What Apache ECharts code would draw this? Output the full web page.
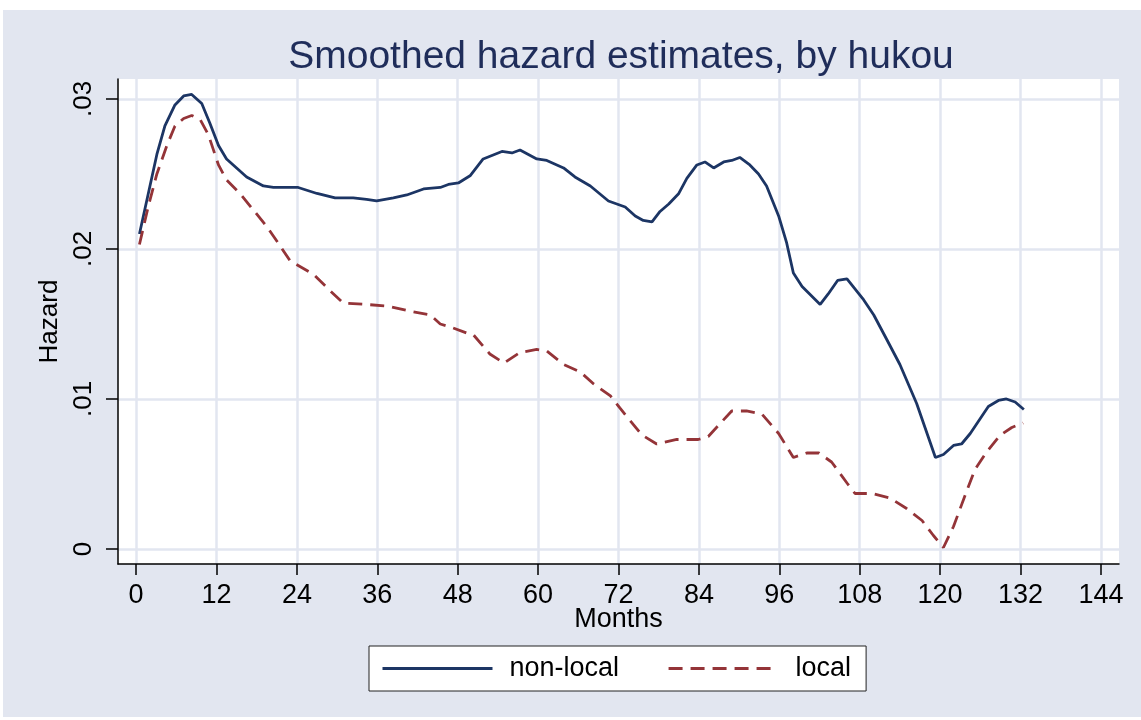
<!DOCTYPE html>
<html>
<head>
<meta charset="utf-8">
<script src="https://cdn.jsdelivr.net/npm/echarts@6/dist/echarts.min.js"></script>
<style>
html, body { margin: 0; padding: 0; background: #ffffff; }
#main {
  position: absolute;
  left: 3px;
  top: 10px;
  width: 1138px;
  height: 707px;
  background-color: #e2e6f0;
}
</style>
</head>
<body>
<div id="main"></div>
<script>
// hazard, months on x
var nonLocalMonths = [0.5, 3.1, 4.3, 5.8, 7.1, 8.3, 9.8, 11.0, 12.3, 13.5, 15.0, 16.5, 19.0, 20.5, 24.2, 27.0, 29.7, 32.4, 34.4, 35.9, 38.4, 40.4, 42.9, 45.4, 46.6, 48.1, 49.9, 51.8, 54.6, 56.1, 57.3, 59.8, 61.3, 63.8, 65.5, 67.8, 70.5, 73.0, 74.5, 75.7, 77.0, 78.2, 79.5, 81.0, 82.2, 83.7, 84.9, 86.2, 87.7, 88.9, 90.1, 91.6, 92.9, 94.1, 95.9, 97.1, 98.1, 99.4, 102.1, 103.3, 104.7, 106.1, 108.6, 110.1, 112.0, 114.0, 116.5, 119.3, 120.5, 122.0, 123.2, 124.5, 126.0, 127.2, 128.7, 129.9, 131.2, 132.5];
var nonLocalHazard = [0.0210, 0.0263, 0.0282, 0.0296, 0.0302, 0.0303, 0.0297, 0.0284, 0.0269, 0.0260, 0.0254, 0.0248, 0.0242, 0.0241, 0.0241, 0.0237, 0.0234, 0.0234, 0.0233, 0.0232, 0.0234, 0.0236, 0.0240, 0.0241, 0.0243, 0.0244, 0.0249, 0.0260, 0.0265, 0.0264, 0.0266, 0.0260, 0.0259, 0.0254, 0.0248, 0.0242, 0.0232, 0.0228, 0.0222, 0.0219, 0.0218, 0.0225, 0.0230, 0.0237, 0.0247, 0.0256, 0.0258, 0.0254, 0.0258, 0.0259, 0.0261, 0.0256, 0.0250, 0.0242, 0.0222, 0.0204, 0.0184, 0.0175, 0.0163, 0.0170, 0.0179, 0.0180, 0.0166, 0.0156, 0.0140, 0.0123, 0.0097, 0.0061, 0.0063, 0.0069, 0.0070, 0.0077, 0.0087, 0.0095, 0.0099, 0.0100, 0.0098, 0.0093];

var localMonths = [0.5, 1.8, 3.1, 4.6, 5.8, 7.1, 8.3, 9.6, 10.8, 12.3, 13.5, 15.5, 17.5, 19.5, 21.5, 23.0, 26.5, 29.0, 30.9, 34.4, 37.4, 41.4, 43.9, 45.4, 46.9, 49.3, 50.3, 52.8, 54.9, 57.3, 59.8, 61.3, 63.8, 66.3, 68.3, 70.8, 72.2, 75.5, 77.7, 80.7, 83.9, 85.4, 88.9, 91.1, 93.4, 95.9, 98.1, 100.1, 101.9, 103.8, 106.1, 107.3, 109.8, 112.5, 115.0, 117.3, 119.0, 120.5, 122.0, 124.0, 125.2, 127.0, 129.0, 130.7, 132.4];
var localHazard = [0.0203, 0.0228, 0.0250, 0.0269, 0.0282, 0.0287, 0.0289, 0.0286, 0.0276, 0.0256, 0.0246, 0.0237, 0.0226, 0.0215, 0.0202, 0.0192, 0.0183, 0.0172, 0.0164, 0.0163, 0.0162, 0.0158, 0.0156, 0.0150, 0.0148, 0.0144, 0.0143, 0.0130, 0.0124, 0.0131, 0.0133, 0.0132, 0.0123, 0.0118, 0.0110, 0.0102, 0.0094, 0.0076, 0.0070, 0.0073, 0.0073, 0.0075, 0.0092, 0.0092, 0.0090, 0.0077, 0.0061, 0.0064, 0.0064, 0.0058, 0.0044, 0.0037, 0.0037, 0.0034, 0.0027, 0.0019, 0.0009, 0.0001, 0.0015, 0.0039, 0.0053, 0.0065, 0.0076, 0.0081, 0.0084];

var xTicks = [0, 12, 24, 36, 48, 60, 72, 84, 96, 108, 120, 132, 144];
var yTicks = [0, 0.01, 0.02, 0.03];

function pairs(xs, ys) {
  var out = [];
  for (var i = 0; i < xs.length; i++) out.push([xs[i], ys[i]]);
  return out;
}

var FONT = 'Liberation Sans, Arial, sans-serif';
var Chart = echarts.init(document.getElementById('main'));
Chart.setOption({
  animation: false,
  title: {
    text: 'Smoothed hazard estimates, by hukou',
    left: 613,
    top: 23,
    textAlign: 'center',
    textStyle: { color: '#1f2d5a', fontSize: 39, fontWeight: 'normal', fontFamily: FONT }
  },
  legend: {
    left: 366,
    top: 636,
    orient: 'horizontal',
    backgroundColor: '#ffffff',
    borderColor: '#222222',
    borderWidth: 1,
    padding: [9, 15, 9, 12],
    itemWidth: 110,
    itemHeight: 14,
    itemGap: 48,
    itemStyle: { opacity: 0 },
    lineStyle: { width: 3 },
    textStyle: { color: '#000000', fontSize: 27, fontFamily: FONT, padding: [0, 0, 0, 12] },
    data: ['non-local', 'local']
  },
  grid: {
    left: 115,
    top: 69,
    right: 22,
    bottom: 153,
    show: true,
    backgroundColor: '#ffffff',
    borderWidth: 0
  },
  xAxis: {
    type: 'value',
    min: -2.7,
    max: 146.7,
    name: 'Months',
    nameLocation: 'middle',
    nameGap: 42,
    nameMoveOverlap: false,
    nameTextStyle: { color: '#000000', fontSize: 27, fontFamily: FONT },
    axisLine: { show: true, onZero: false, lineStyle: { color: '#000000', width: 1.5 } },
    axisTick: { show: true, length: 11, customValues: xTicks, lineStyle: { color: '#000000', width: 1.5 } },
    axisLabel: {
      customValues: xTicks,
      margin: 18,
      color: '#000000',
      fontSize: 27,
      fontFamily: FONT
    },
    splitLine: { show: true, lineStyle: { color: '#e2e6f0', width: 2.5 } }
  },
  yAxis: {
    type: 'value',
    min: -0.001,
    max: 0.03133,
    name: 'Hazard',
    nameLocation: 'middle',
    nameRotate: 90,
    nameGap: 48,
    nameTextStyle: { color: '#000000', fontSize: 26, fontFamily: FONT },
    axisLine: { show: true, onZero: false, lineStyle: { color: '#000000', width: 1.5 } },
    axisTick: { show: true, length: 12, customValues: yTicks, lineStyle: { color: '#000000', width: 1.5 } },
    axisLabel: {
      customValues: yTicks,
      rotate: 90,
      margin: 21,
      color: '#000000',
      fontSize: 26,
      fontFamily: FONT,
      formatter: function (v) {
        if (v === 0) return '0';
        return v.toFixed(2).replace(/^0/, '');
      }
    },
    splitLine: { show: true, lineStyle: { color: '#e2e6f0', width: 2.5 } }
  },
  series: [
    {
      name: 'non-local',
      type: 'line',
      data: pairs(nonLocalMonths, nonLocalHazard),
      symbol: 'none',
      smooth: false,
      lineStyle: { color: '#1c3564', width: 2.8 },
      itemStyle: { color: '#1c3564' }
    },
    {
      name: 'local',
      type: 'line',
      data: pairs(localMonths, localHazard),
      symbol: 'none',
      smooth: false,
      lineStyle: { color: '#943438', width: 2.8, type: [14, 8] },
      itemStyle: { color: '#943438' }
    }
  ]
});
</script>
</body>
</html>
